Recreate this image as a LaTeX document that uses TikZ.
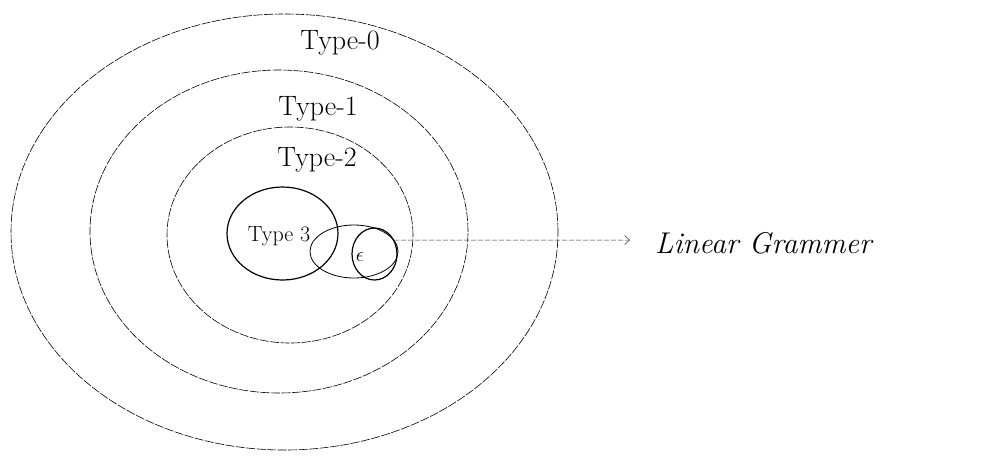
\documentclass[tikz,border=0pt]{standalone}
\usepackage{fontspec}
\usetikzlibrary{shapes.geometric,arrows.meta}
\tikzset{
  ring/.style={ellipse, draw=black, line width=0.6pt, dash pattern=on 9pt off 1.5pt, inner sep=0pt},
  solidring/.style={ellipse, draw=black, line width=1.2pt, inner sep=0pt},
  lbl/.style={font=\fontsize{28}{32}\selectfont, inner sep=0pt},
  conn/.style={draw=black!80, line width=0.5pt, dash pattern=on 5pt off 2pt, -{Straight Barb[length=5pt,width=9pt]}}
}
\begin{document}
\begin{tikzpicture}[x=1pt,y=-1pt]
\useasboundingbox (0,0) rectangle (991,459);
\node[ring, minimum width=547pt, minimum height=436pt] (t0) at (284.5,232) {};
\node[ring, minimum width=378pt, minimum height=323pt] (t1) at (279,231.5) {};
\node[ring, minimum width=246pt, minimum height=216pt] (t2) at (290,235) {};
\node[solidring, minimum width=111pt, minimum height=93pt] (t3) at (282.5,233.5) {};
\node[ellipse, draw=black, line width=0.8pt, inner sep=0pt, minimum width=88pt, minimum height=53pt] (lin) at (354,251.5) {};
\node[solidring, minimum width=45pt, minimum height=52pt] (eps) at (374.5,254) {};
\node[lbl] (l0) at (340,43) {Type-0};
\node[lbl] (l1) at (318,109) {Type-1};
\node[lbl] (l2) at (317,160) {Type-2};
\node[font=\fontsize{22}{26}\selectfont, inner sep=0pt] (l3) at (279,236) {Type 3};
\node[font=\fontsize{22}{24}\selectfont, inner sep=0pt] (le) at (360,257) {$\epsilon$};
\coordinate (tip) at (630,240);
\draw[conn] (eps.35) -- (tip);
\node[font=\fontsize{30}{34}\itshape, anchor=west, inner sep=0pt] (lg) at (655,243) {Linear Grammer};
\end{tikzpicture}
\end{document}
